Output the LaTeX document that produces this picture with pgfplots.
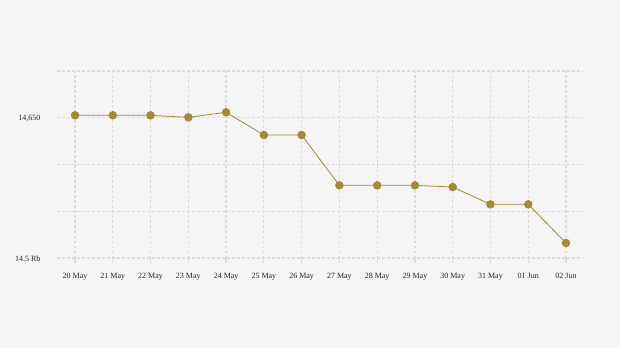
\documentclass[border=0pt]{standalone}
\usepackage{fontspec}
\setmainfont{Liberation Serif}
\usepackage{pgfplots}
\pgfplotsset{compat=1.18}
\definecolor{bg}{HTML}{F5F5F5}
\definecolor{olive}{HTML}{A08C32}
\definecolor{gridc}{HTML}{DCDCDC}
\begin{document}
\begin{tikzpicture}
\fill[bg] (0,0) rectangle (620pt,348pt);
\useasboundingbox (0,0) rectangle (620pt,348pt);
\begin{axis}[
  at={(57pt,90pt)}, anchor=south west,
  scale only axis, width=526pt, height=187pt,
  xmin=-0.477, xmax=13.45,
  ymin=14500, ymax=14700,
  axis line style={draw=none},
  scaled y ticks=false,
  xtick={0,...,13},
  xticklabels={20 May,21 May,22 May,23 May,24 May,25 May,26 May,27 May,28 May,29 May,30 May,31 May,01 Jun,02 Jun},
  ytick={14500,14550,14600,14650,14700},
  yticklabels={{14.5 Rb},{},{},{14,650},{}},
  tick label style={font=\fontsize{8}{9}\selectfont, text=black!85},
  /pgf/number format/assume math mode=true,
  xtick pos=bottom, ytick pos=left,
  tick align=outside,
  major tick length=5pt,
  xtick style={gridc, line width=1.2pt, solid},
  ytick style={draw=none},
  xticklabel style={yshift=-7pt},
  yticklabel style={xshift=-8pt, yshift=-1pt},
  grid=major,
  major grid style={gridc, line width=1.2pt, dash pattern=on 2.5pt off 2.5pt},
  clip=false,
]
\addplot[olive, line width=0.8pt, mark=*, mark size=3.8pt, mark options={fill=olive, draw=olive}]
coordinates {
(0,14652.6) (1,14652.6) (2,14652.6) (3,14650.4) (4,14655.8) (5,14631.5) (6,14631.5)
(7,14577.7) (8,14577.7) (9,14577.7) (10,14575.9) (11,14557.4) (12,14557.4) (13,14516)
};
\end{axis}
\end{tikzpicture}
\end{document}
